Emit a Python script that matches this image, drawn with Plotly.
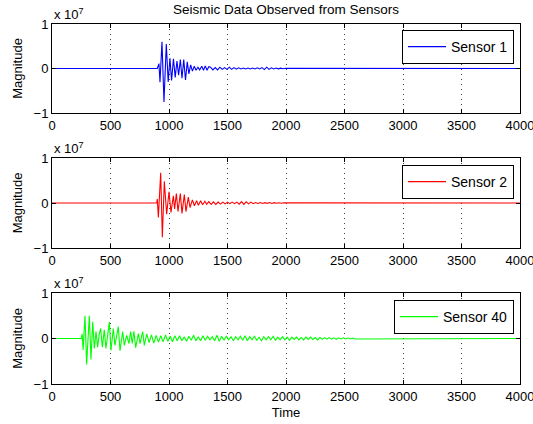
import plotly.graph_objects as go
from plotly.subplots import make_subplots

# ---------------- data (magnitudes in units of 1e7) ----------------
SCALE_EXP = 7
X_TICKS = [0, 500, 1000, 1500, 2000, 2500, 3000, 3500, 4000]
Y_TICKS = [-1, 0, 1]

# Sensor 1: burst extrema
s1_t = [0, 900, 914, 923, 940, 957, 977, 993, 1008, 1022, 1038, 1053, 1068, 1082, 1097,
        1111, 1126, 1141, 1156, 1170, 1185, 1200, 1216, 1231, 1247, 1262, 1280, 1295,
        1310, 1325, 1340]
s1_v = [0, 0, 0.11, -0.31, 0.6, -0.75, 0.55, -0.3, 0.23, -0.27, 0.22, -0.2, 0.17, -0.15, 0.2,
        -0.22, 0.2, -0.26, 0.15, -0.12, 0.08, -0.06, 0.05, -0.04, 0.03, -0.03, 0.05, -0.04,
        0.06, -0.04, 0.04]
s1_tail_start = 1355
s1_tail = [0.03, -0.03, 0.02, -0.03, 0.03, -0.02, 0.02, -0.02, 0.03, -0.02,
           0.02, -0.015, 0.015, -0.01, 0.01, -0.01, 0.01, -0.01, 0.01, -0.01,
           0.015, -0.01, 0.02, -0.025, 0.03, -0.02, 0.015, -0.01, 0.01, -0.008,
           0.008, -0.005, 0.005]

# Sensor 2: burst extrema
s2_t = [0, 895, 900, 909, 929, 943, 960, 980, 1000, 1017, 1037, 1048, 1063, 1077, 1097,
        1111, 1131, 1145, 1165, 1180, 1200, 1217, 1236, 1251, 1270, 1287, 1307, 1322]
s2_v = [0, 0, 0.09, -0.32, 0.67, -0.76, 0.48, -0.25, 0.25, -0.21, 0.16, -0.13, 0.21, -0.19, 0.21,
        -0.23, 0.19, -0.19, 0.13, -0.1, 0.07, -0.06, 0.05, -0.05, 0.05, -0.04, 0.04, -0.03]
s2_tail_start = 1340
s2_tail = [0.03, -0.03, 0.025, -0.03, 0.02, -0.025, 0.02, -0.02, 0.02, -0.015,
           0.02, -0.015, 0.02, -0.025, 0.03, -0.03, 0.025, -0.02, 0.02, -0.015,
           0.01, -0.01, 0.01, -0.01, 0.008, -0.008, 0.01, -0.01, 0.008, -0.006,
           0.006, -0.005, 0.005]

# Sensor 40: burst extrema
s40_t = [0, 250, 258, 266, 282, 296, 319, 333, 348, 362, 376, 390, 404, 416, 430, 447, 461,
         476, 490, 504, 524, 538, 552, 567, 581, 604, 618, 638, 658, 672, 686, 700, 715,
         738, 752, 775, 789]
s40_v = [0, 0, 0.1, -0.25, 0.5, -0.57, 0.5, -0.46, 0.37, -0.22, 0.15, -0.19, 0.1, 0.22, -0.19,
         0.19, -0.22, 0.1, 0.36, -0.26, 0.22, -0.15, 0.1, 0.26, -0.27, 0.15, -0.15, 0.07, -0.11,
         0.15, -0.11, 0.16, -0.2, 0.11, -0.11, 0.15, -0.15]
s40_tail_start = 810
s40_tail = [0.1, -0.09, 0.08, -0.1, 0.07, -0.08, 0.06, -0.07, 0.08, -0.06, 0.05, -0.07, 0.06, -0.05, 0.06,
            -0.05, 0.04, -0.06, 0.05, -0.04, 0.07, -0.05, 0.04, -0.05, 0.06, -0.04, 0.05, -0.03, 0.04, -0.05,
            0.07, -0.06, 0.05, -0.04, 0.05, -0.03, 0.04, -0.05, 0.04, -0.03,
            0.05, -0.04, 0.06, -0.05, 0.04, -0.03, 0.05, -0.04, 0.03, -0.05, 0.04, -0.03, 0.04, -0.03, 0.05,
            -0.04, 0.03, -0.03, 0.04, -0.03, 0.03, -0.04, 0.03, -0.02, 0.03,
            -0.03, 0.02, -0.03, 0.03, -0.02, 0.03, -0.02, 0.02, -0.03, 0.02, -0.02, 0.02, -0.015, 0.02,
            -0.015, 0.015, -0.02, 0.015, -0.01, 0.015, -0.01, 0.01, -0.01, 0.01, -0.01]
TAIL_STEP = 20
END_T = 4000

sensors = [
    ("Sensor 1", s1_t, s1_v, s1_tail_start, s1_tail, "#0000ff"),
    ("Sensor 2", s2_t, s2_v, s2_tail_start, s2_tail, "#ff0000"),
    ("Sensor 40", s40_t, s40_v, s40_tail_start, s40_tail, "#00ff00"),
]

# ---------------- figure ----------------
W, H = 533, 424
ML, MR, MT, MB = 52, 13, 24, 40
plot_h = H - MT - MB
panels_px = [(24, 113), (158, 248), (293, 384)]
legend_tops_px = [30, 165, 300]

fig = make_subplots(rows=3, cols=1)
FONT = "Liberation Sans, Arial, Helvetica, sans-serif"

for i, (name, t, v, ts, tail, col) in enumerate(sensors):
    tt = list(t) + [ts + k * TAIL_STEP for k in range(len(tail))] + [END_T]
    vv = list(v) + list(tail) + [0]
    lg = "legend" if i == 0 else f"legend{i+1}"
    fig.add_trace(go.Scatter(x=tt, y=vv, mode="lines", name=name,
                             line=dict(color=col, width=1.1), legend=lg),
                  row=i + 1, col=1)
    top, bot = panels_px[i]
    d0 = 1 - (bot - MT) / plot_h
    d1 = 1 - (top - MT) / plot_h
    xa = "xaxis" if i == 0 else f"xaxis{i+1}"
    ya = "yaxis" if i == 0 else f"yaxis{i+1}"
    fig.layout[xa].update(range=[0, 4000], tickvals=X_TICKS, ticks="inside", ticklen=4,
                          showline=True, linecolor="black", linewidth=1, mirror="ticks",
                          showgrid=True, gridcolor="rgba(0,0,0,0.75)", griddash="1px,4px",
                          gridwidth=1, zeroline=False, tickcolor="black",
                          ticklabeloverflow="allow", automargin=False,
                          tickfont=dict(size=13, color="black", family=FONT))
    fig.layout[ya].update(domain=[d0, d1], range=[-1, 1], tickvals=Y_TICKS, ticks="inside",
                          ticklen=4, showline=True, linecolor="black", linewidth=1,
                          mirror="ticks", showgrid=False, zeroline=False, tickcolor="black",
                          automargin=False,
                          tickfont=dict(size=13, color="black", family=FONT),
                          title=dict(text="Magnitude", standoff=8,
                                     font=dict(size=13, color="black", family=FONT)))
    ly = 1 - (legend_tops_px[i] - MT) / plot_h
    fig.layout[lg] = dict(x=(514 - ML) / (W - ML - MR), xanchor="right", y=ly, yanchor="top",
                          bgcolor="white", bordercolor="black", borderwidth=1,
                          font=dict(size=14, color="black", family=FONT),
                          tracegroupgap=0, itemwidth=38)
    fig.add_annotation(text=f"x 10<sup>{SCALE_EXP}</sup>", xref="paper", yref="paper",
                       x=0, y=d1, xanchor="left", yanchor="bottom", yshift=0, showarrow=False,
                       font=dict(size=13, color="black", family=FONT))

fig.layout.xaxis3.title = dict(text="Time", standoff=5,
                               font=dict(size=13, color="black", family=FONT))

fig.update_layout(
    width=W, height=H, margin=dict(l=ML, r=MR, t=MT, b=MB, autoexpand=False),
    paper_bgcolor="white", plot_bgcolor="white", showlegend=True,
    title=dict(text="Seismic Data Observed from Sensors", x=(ML + (W - ML - MR) / 2) / W,
               xanchor="center", y=1 - 9 / H, yanchor="middle",
               font=dict(size=13.5, color="black", family=FONT)),
)

fig.write_html("out.html")
